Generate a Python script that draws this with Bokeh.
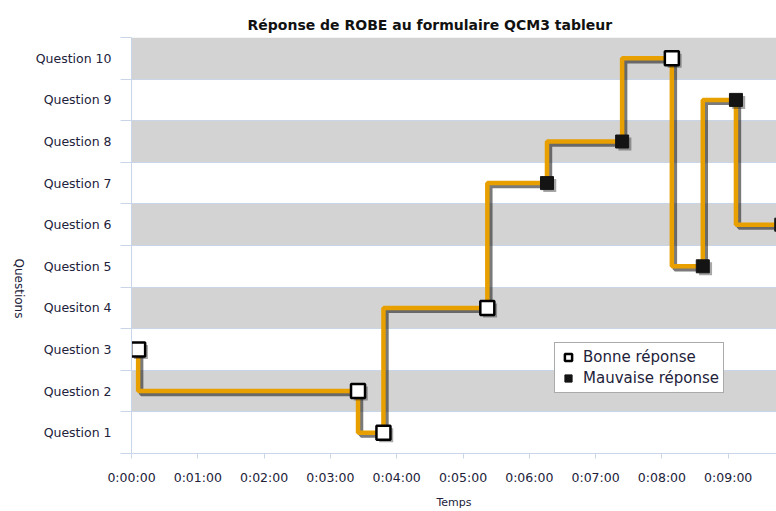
import math
from bokeh.plotting import figure
from bokeh.layouts import row
from bokeh.models import (ColumnDataSource, FixedTicker, CustomJSTickFormatter,
                          Range1d, Legend, LegendItem, Label)
from bokeh.transform import dodge
from bokeh.embed import file_html
from bokeh.resources import INLINE

title_text = "Réponse de ROBE au formulaire QCM3 tableur"
y_title = "Questions"
x_title = "Temps"
question_labels = ["Question 1", "Question 2", "Question 3", "Quesiton 4", "Question 5",
                   "Question 6", "Question 7", "Question 8", "Question 9", "Question 10"]
# answer times (seconds from start), question answered, correct (1) / wrong (0)
times_s = [6, 205, 228, 322, 376, 444, 489, 517, 547, 588]
question_num = [3, 2, 1, 4, 7, 8, 10, 5, 9, 6]
correct = [1, 1, 1, 1, 0, 0, 1, 0, 0, 0]
x_tick_s = [0, 60, 120, 180, 240, 300, 360, 420, 480, 540]
legend_labels = ["Bonne réponse", "Mauvaise réponse"]

FONT = "DejaVu Sans"
TXT = "#22223a"
BLUE = "#c9d6e8"
ORANGE = "#e8a000"
H = 511
LW = 26  # width of the strip holding the vertical axis title

src = ColumnDataSource(dict(x=times_s, y=question_num))
good = ColumnDataSource(dict(x=[t for t, c in zip(times_s, correct) if c],
                             y=[q for q, c in zip(question_num, correct) if c]))
bad = ColumnDataSource(dict(x=[t for t, c in zip(times_s, correct) if not c],
                            y=[q for q, c in zip(question_num, correct) if not c]))

# narrow strip with the y-axis title (reads top to bottom)
lab_fig = figure(width=LW, height=H, output_backend="svg", toolbar_location=None,
                 x_range=Range1d(0, 1), y_range=Range1d(0, 1),
                 x_axis_location=None, y_axis_location=None,
                 min_border=0, outline_line_color=None)
lab_fig.grid.visible = False
lab_fig.add_layout(Label(x=18, y=165, x_units="screen", y_units="screen", text=y_title,
                         angle=-math.pi / 2, text_align="center", text_baseline="middle",
                         text_font=FONT, text_font_size="12px", text_color=TXT))

p = figure(width=776 - LW, height=H, output_backend="svg", toolbar_location=None,
           x_range=Range1d(0, 583.7), y_range=Range1d(0.5, 10.5),
           min_border_left=131 - LW, min_border_right=0, min_border_top=37, min_border_bottom=54)
p.outline_line_color = None

p.title.text = title_text
p.title.align = "left"
p.title.offset = 116
p.title.text_font = FONT
p.title.text_font_size = "14px"
p.title.text_font_style = "bold"
p.title.text_color = "#111111"

# grid: horizontal bands between questions
p.xgrid.visible = False
p.ygrid.ticker = FixedTicker(ticks=[i + 0.5 for i in range(0, 11)])
p.ygrid.grid_line_color = BLUE
p.ygrid.band_fill_color = "#d3d3d3"
p.ygrid.band_fill_alpha = 1.0

# y axis
p.yaxis.ticker = FixedTicker(ticks=list(range(1, 11)), minor_ticks=[i + 0.5 for i in range(0, 11)])
p.yaxis.major_label_overrides = {i + 1: lab for i, lab in enumerate(question_labels)}
p.yaxis.major_tick_line_color = None
p.yaxis.major_tick_out = 0
p.yaxis.major_tick_in = 0
p.yaxis.minor_tick_line_color = BLUE
p.yaxis.minor_tick_out = 11
p.yaxis.minor_tick_in = 0
p.yaxis.axis_line_color = BLUE
p.yaxis.major_label_standoff = 9
p.yaxis.major_label_text_font = FONT
p.yaxis.major_label_text_font_size = "12.5px"
p.yaxis.major_label_text_color = TXT

# x axis
p.xaxis.ticker = FixedTicker(ticks=x_tick_s)
p.xaxis.formatter = CustomJSTickFormatter(code="""
const s = Math.round(tick);
const h = Math.floor(s / 3600), m = Math.floor((s % 3600) / 60), ss = s % 60;
return h + ":" + String(m).padStart(2, "0") + ":" + String(ss).padStart(2, "0");
""")
p.xaxis.axis_line_color = BLUE
p.xaxis.major_tick_line_color = BLUE
p.xaxis.major_tick_out = 5
p.xaxis.major_tick_in = 0
p.xaxis.minor_tick_line_color = None
p.xaxis.major_label_text_font = FONT
p.xaxis.major_label_text_font_size = "12.5px"
p.xaxis.major_label_text_color = TXT
p.xaxis.major_label_standoff = 11
p.xaxis.axis_label = x_title
p.xaxis.axis_label_text_font = FONT
p.xaxis.axis_label_text_font_size = "11px"
p.xaxis.axis_label_text_font_style = "normal"
p.xaxis.axis_label_text_color = TXT
p.xaxis.axis_label_standoff = 8

# shadow + step line
p.step(x=dodge("x", 2.7), y=dodge("y", -0.07), source=src, mode="before",
       line_color="#222222", line_alpha=0.6, line_width=4.5)
p.step(x="x", y="y", source=src, mode="before", line_color=ORANGE, line_width=4.5)

# markers
p.scatter(x=dodge("x", 2.5), y=dodge("y", -0.06), source=good, marker="square", size=14,
          fill_color="#222222", fill_alpha=0.4, line_color=None)
p.scatter(x=dodge("x", 2.5), y=dodge("y", -0.06), source=bad, marker="square", size=13,
          fill_color="#222222", fill_alpha=0.4, line_color=None)
r_good = p.scatter(x="x", y="y", source=good, marker="square", size=14,
                   fill_color="white", line_color="black", line_width=2.5)
r_bad = p.scatter(x="x", y="y", source=bad, marker="square", size=13,
                  fill_color="#141414", line_color="#141414", line_width=1)

legend = Legend(items=[LegendItem(label=legend_labels[0], renderers=[r_good]),
                       LegendItem(label=legend_labels[1], renderers=[r_bad])],
                location=(423, 60))
legend.label_text_font = FONT
legend.label_text_font_size = "15px"
legend.label_text_color = TXT
legend.border_line_color = "#555555"
legend.border_line_width = 1
legend.background_fill_color = "white"
legend.background_fill_alpha = 1
legend.padding = 4
legend.spacing = 1
legend.margin = 0
legend.glyph_width = 18
legend.glyph_height = 20
legend.label_height = 20
legend.label_standoff = 6
p.add_layout(legend)

layout = row(lab_fig, p, spacing=0)
open("out.html", "w").write(file_html(layout, INLINE))
